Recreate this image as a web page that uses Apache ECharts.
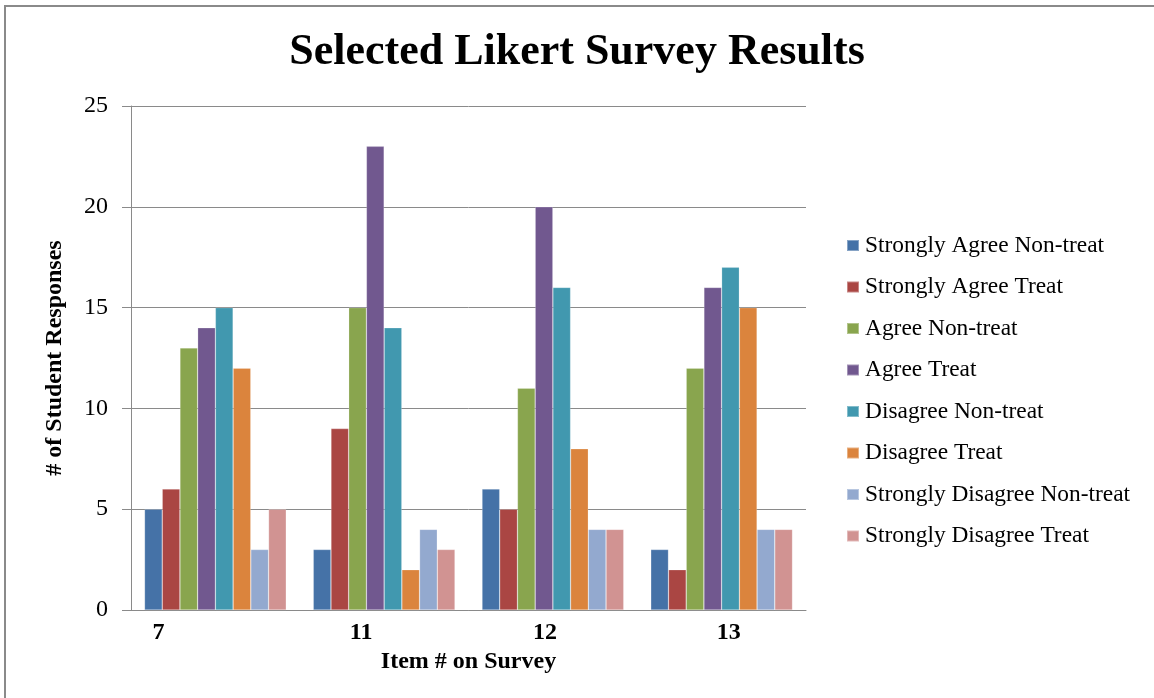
<!DOCTYPE html>
<html>
<head>
<meta charset="utf-8">
<title>Selected Likert Survey Results</title>
<script src="https://cdn.jsdelivr.net/npm/echarts@6/dist/echarts.min.js"></script>
<style>
  html, body { margin: 0; padding: 0; background: #ffffff; }
  #chart { width: 1154px; height: 698px; }
</style>
</head>
<body>
<div id="chart"></div>
<script>
// Survey items along the x axis
var items = ['7', '11', '12', '13'];

// Response counts per group, one value per survey item
var stronglyAgreeNonTreat    = [5, 3, 6, 3];
var stronglyAgreeTreat       = [6, 9, 5, 2];
var agreeNonTreat            = [13, 15, 11, 12];
var agreeTreat               = [14, 23, 20, 16];
var disagreeNonTreat         = [15, 14, 16, 17];
var disagreeTreat            = [12, 2, 8, 15];
var stronglyDisagreeNonTreat = [3, 4, 4, 4];
var stronglyDisagreeTreat    = [5, 3, 4, 4];

var seriesNames = [
  'Strongly Agree Non-treat',
  'Strongly Agree Treat',
  'Agree Non-treat',
  'Agree Treat',
  'Disagree Non-treat',
  'Disagree Treat',
  'Strongly Disagree Non-treat',
  'Strongly Disagree Treat'
];
var seriesValues = [
  stronglyAgreeNonTreat, stronglyAgreeTreat, agreeNonTreat, agreeTreat,
  disagreeNonTreat, disagreeTreat, stronglyDisagreeNonTreat, stronglyDisagreeTreat
];
var palette = ['#4572A7', '#AA4643', '#89A54E', '#71588F', '#4198AF', '#DB843D', '#93A9CF', '#D19392'];

var serif = '"Liberation Serif", "Times New Roman", "DejaVu Serif", serif';

// Per-label horizontal placement of the category labels
var labelRich = {
  c0: { padding: [0, 114, 0, 0] },
  c1: { padding: [0, 46, 0, 0] },
  c2: { padding: [0, 16, 0, 0] },
  c3: { padding: [0, 0, 0, 14] }
};
Object.keys(labelRich).forEach(function (k) {
  labelRich[k].fontFamily = serif;
  labelRich[k].fontSize = 24;
  labelRich[k].fontWeight = 'bold';
  labelRich[k].color = '#000';
});

var series = seriesNames.map(function (name, i) {
  return {
    name: name,
    type: 'bar',
    data: seriesValues[i],
    barGap: '0%',
    barCategoryGap: '16%',
    itemStyle: { color: palette[i], borderColor: 'rgba(255,255,255,0.35)', borderWidth: 0.6 },
    emphasis: { disabled: true }
  };
});

var chart = echarts.init(document.getElementById('chart'), null, { renderer: 'canvas' });
chart.setOption({
  animation: false,
  backgroundColor: '#ffffff',
  color: palette,
  title: {
    text: 'Selected Likert Survey Results',
    left: 'center',
    top: 26,
    textStyle: { fontFamily: serif, fontSize: 44, fontWeight: 'bold', color: '#000' }
  },
  graphic: [{
    type: 'rect',
    shape: { x: 5, y: 6, width: 1300, height: 900 },
    style: { fill: 'none', stroke: '#8a8a8a', lineWidth: 2 },
    silent: true
  }],
  legend: {
    orient: 'vertical',
    left: 841,
    top: 229,
    itemWidth: 12,
    itemHeight: 11,
    itemGap: 18.5,
    icon: 'rect',
    data: seriesNames,
    textStyle: { fontFamily: serif, fontSize: 23.4, color: '#000', padding: [0, 0, 0, 1] }
  },
  grid: { left: 131, right: 348, top: 106, bottom: 88, containLabel: false },
  xAxis: {
    type: 'category',
    data: items,
    name: 'Item # on Survey',
    nameLocation: 'middle',
    nameGap: 40,
    nameTextStyle: { fontFamily: serif, fontSize: 24, fontWeight: 'bold', color: '#000' },
    axisLine: { show: true, lineStyle: { color: '#8a8a8a', width: 1 } },
    axisTick: { show: false },
    axisLabel: {
      margin: 11,
      formatter: function (v, idx) { return '{c' + idx + '|' + v + '}'; },
      rich: labelRich
    }
  },
  yAxis: {
    type: 'value',
    min: 0,
    max: 25,
    interval: 5,
    name: '# of Student Responses',
    nameLocation: 'middle',
    nameGap: 64,
    nameRotate: 90,
    nameTextStyle: { fontFamily: serif, fontSize: 24, fontWeight: 'bold', color: '#000' },
    axisLine: { show: true, lineStyle: { color: '#8a8a8a', width: 1 } },
    axisTick: { show: true, length: 9, lineStyle: { color: '#8a8a8a' } },
    axisLabel: { margin: 23, fontFamily: serif, fontSize: 24, color: '#000' },
    splitLine: { show: true, lineStyle: { color: '#8a8a8a', width: 1 } }
  },
  series: series
});
</script>
</body>
</html>
